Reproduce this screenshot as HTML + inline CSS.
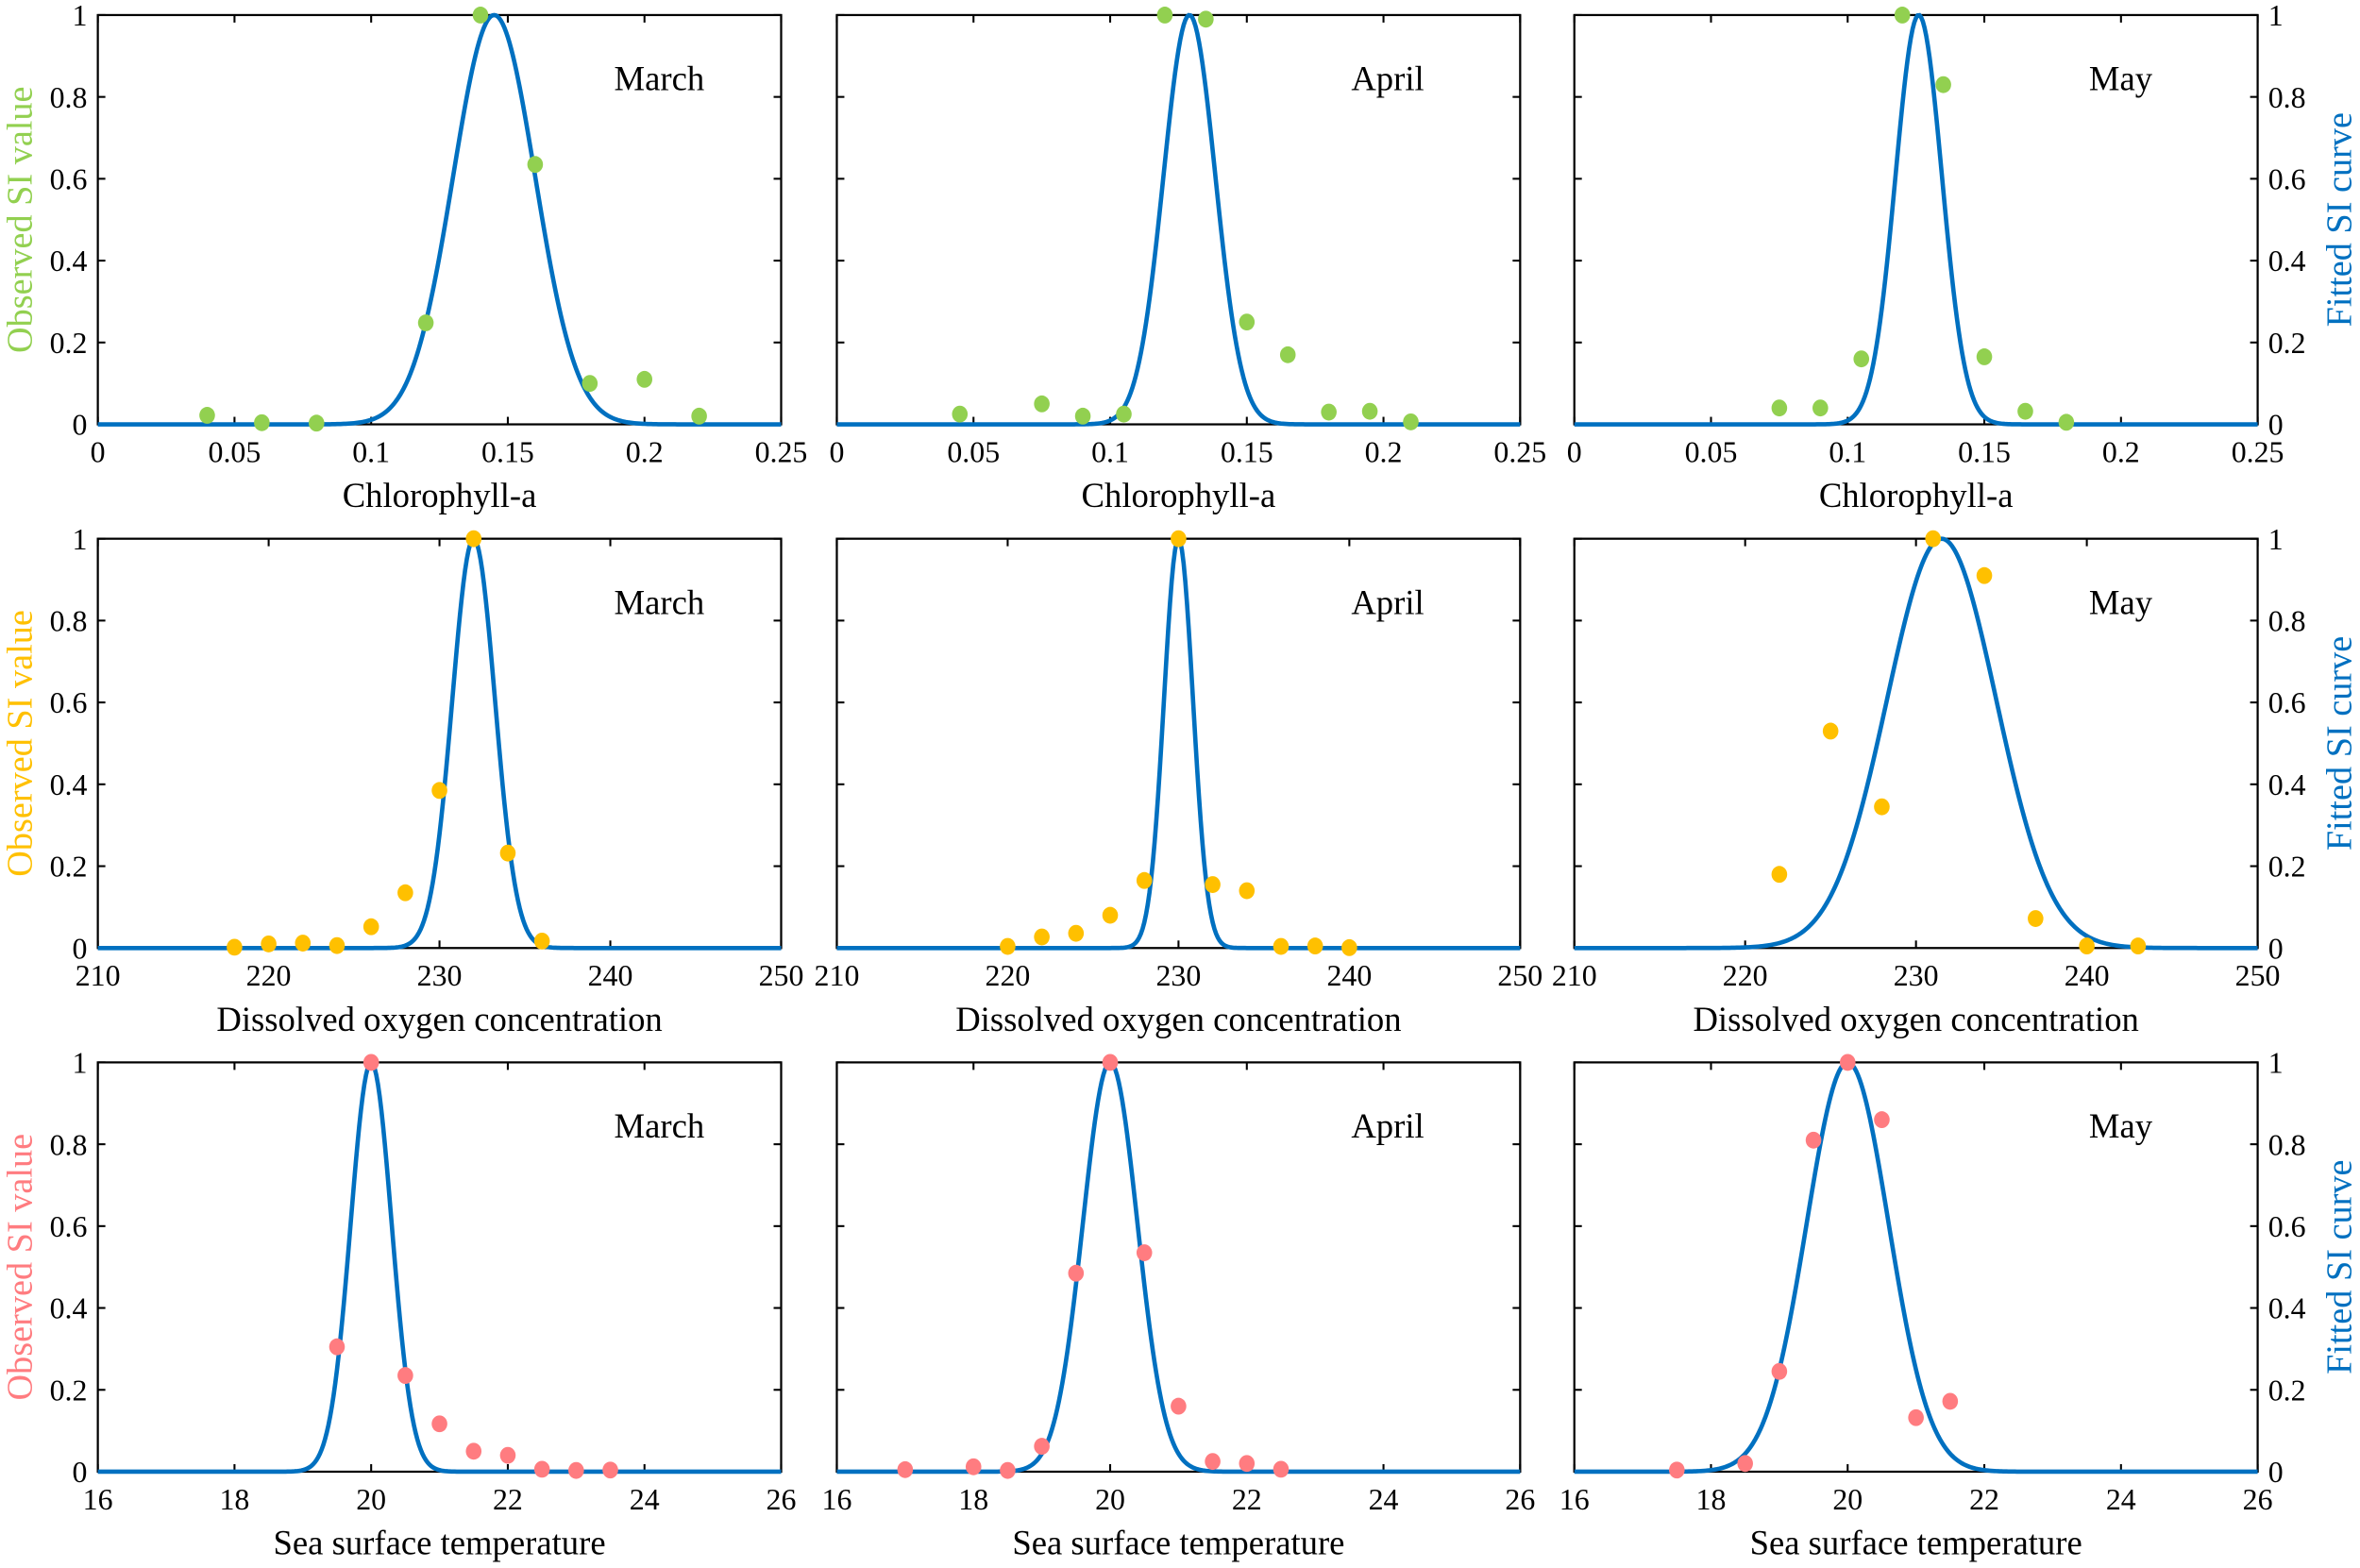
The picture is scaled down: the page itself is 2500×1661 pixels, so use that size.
<!DOCTYPE html>
<html><head><meta charset="utf-8"><style>
html,body{margin:0;padding:0;background:#fff;}
svg{display:block;font-family:"Liberation Serif",serif;}
</style></head><body>
<svg id="fig" width="2500" height="1661" viewBox="0 0 1568 1042" preserveAspectRatio="none" xmlns="http://www.w3.org/2000/svg"></svg>
<script>
const months = ["March","April","May"];
const rowVars = ["Chlorophyll-a","Dissolved oxygen concentration","Sea surface temperature"];
const rowColors = ["#92d050","#ffc000","#ff7c80"];
const rowXMin = [0,210,16];
const rowXMax = [0.25,250,26];
const rowXTicks = [[0,0.05,0.1,0.15,0.2,0.25],[210,220,230,240,250],[16,18,20,22,24,26]];
const yTicks = [0,0.2,0.4,0.6,0.8,1];
// Gaussian fit parameters (row-major: chl, DO, SST; cols March, April, May)
const fitMu = [[0.145,0.129,0.126],[232,230,231.5],[20,20,20]];
const fitSigma = [[0.015,0.0095,0.0085],[1.25,0.85,3.2],[0.3,0.4,0.6]];
// Observed points
const chlMarX=[0.04,0.06,0.08,0.12,0.14,0.16,0.18,0.2,0.22];
const chlMarY=[0.022,0.004,0.003,0.248,1,0.635,0.1,0.11,0.02];
const chlAprX=[0.045,0.075,0.09,0.105,0.12,0.135,0.15,0.165,0.18,0.195,0.21];
const chlAprY=[0.025,0.05,0.02,0.025,1,0.99,0.25,0.17,0.03,0.032,0.006];
const chlMayX=[0.075,0.09,0.105,0.12,0.135,0.15,0.165,0.18];
const chlMayY=[0.04,0.04,0.16,1,0.83,0.165,0.032,0.005];
const doMarX=[218,220,222,224,226,228,230,232,234,236];
const doMarY=[0.002,0.01,0.012,0.006,0.052,0.135,0.385,1,0.232,0.017];
const doAprX=[220,222,224,226,228,230,232,234,236,238,240];
const doAprY=[0.004,0.027,0.036,0.08,0.165,1,0.155,0.14,0.004,0.005,0.001];
const doMayX=[222,225,228,231,234,237,240,243];
const doMayY=[0.18,0.53,0.345,1,0.91,0.072,0.005,0.005];
const sstMarX=[19.5,20,20.5,21,21.5,22,22.5,23,23.5];
const sstMarY=[0.305,1,0.235,0.117,0.05,0.04,0.006,0.003,0.004];
const sstAprX=[17,18,18.5,19,19.5,20,20.5,21,21.5,22,22.5];
const sstAprY=[0.005,0.012,0.003,0.062,0.485,1,0.535,0.16,0.025,0.02,0.006];
const sstMayX=[17.5,18.5,19,19.5,20,20.5,21,21.5];
const sstMayY=[0.004,0.02,0.245,0.81,1,0.86,0.132,0.172];
const ptsX=[[chlMarX,chlAprX,chlMayX],[doMarX,doAprX,doMayX],[sstMarX,sstAprX,sstMayX]];
const ptsY=[[chlMarY,chlAprY,chlMayY],[doMarY,doAprY,doMayY],[sstMarY,sstAprY,sstMayY]];

const NS="http://www.w3.org/2000/svg";
const svg=document.getElementById('fig');
function mk(tag,attrs,parent){const e=document.createElementNS(NS,tag);for(const k in attrs)e.setAttribute(k,attrs[k]);(parent||svg).appendChild(e);return e;}
const colL=[65,556,1046], W=454, rowT=[10,358,706], H=272;
const monthOff=[373,366,363];
function fmt(v){return String(+v.toFixed(3));}

for(let r=0;r<3;r++){
  for(let c=0;c<3;c++){
    const x0=colL[c], y0=rowT[r];
    const g=mk('g',{});
    
    
    const sx=v=>x0+(v-rowXMin[r])/(rowXMax[r]-rowXMin[r])*W;
    const sy=v=>y0+H-v*H;
    rowXTicks[r].forEach(t=>{
      const X=sx(t);
      mk('line',{x1:X,x2:X,y1:y0+H,y2:y0+H-5,stroke:'#000','stroke-width':1.3},g);
      mk('line',{x1:X,x2:X,y1:y0,y2:y0+5,stroke:'#000','stroke-width':1.3},g);
      const tl=mk('text',{x:X,y:y0+H+25,'text-anchor':'middle','font-size':20},g);
      tl.textContent=fmt(t);
      
      
    });
    yTicks.forEach(t=>{
      const Y=sy(t);
      mk('line',{x1:x0,x2:x0+5,y1:Y,y2:Y,stroke:'#000','stroke-width':1.3},g);
      mk('line',{x1:x0+W,x2:x0+W-5,y1:Y,y2:Y,stroke:'#000','stroke-width':1.3},g);
      if(c===0){const tl=mk('text',{x:x0-7,y:Y+7,'text-anchor':'end','font-size':20},g);tl.textContent=fmt(t);
        
        }
      if(c===2){const tl=mk('text',{x:x0+W+7,y:Y+7,'text-anchor':'start','font-size':20},g);tl.textContent=fmt(t);
        
        }
    });
    let d='';
    const mu=fitMu[r][c], s=fitSigma[r][c];
    for(let i=0;i<=400;i++){
      const xv=rowXMin[r]+(rowXMax[r]-rowXMin[r])*i/400;
      const yv=Math.exp(-Math.pow(xv-mu,2)/(2*s*s));
      d+=(i?'L':'M')+sx(xv).toFixed(2)+' '+sy(yv).toFixed(2);
    }
    mk('rect',{x:x0,y:y0,width:W,height:H,fill:'none',stroke:'#000','stroke-width':1.4},g);
    const cv=mk('path',{d:d,fill:'none',stroke:'#0070c0','stroke-width':2.9},g);
    
    
    ptsX[r][c].forEach((xv,i)=>{
      const p=mk('ellipse',{cx:sx(xv),cy:sy(ptsY[r][c][i]),rx:5.2,ry:5.6,fill:rowColors[r]},g);
      
      
    });
    const ml=mk('text',{x:x0+monthOff[c],y:y0+50,'text-anchor':'middle','font-size':23},g);
    ml.textContent=months[c];
    
    
    const xt=mk('text',{x:x0+W/2,y:y0+H+55,'text-anchor':'middle','font-size':23},g);
    xt.textContent=rowVars[r];
    
    
  }
  const cy=rowT[r]+H/2;
  const lt=mk('text',{x:0,y:0,transform:`translate(21,${cy}) rotate(-90)`,'text-anchor':'middle','font-size':24,fill:rowColors[r]});
  lt.textContent='Observed SI value';
  
  
  const rt=mk('text',{x:0,y:0,transform:`translate(1562,${cy}) rotate(-90)`,'text-anchor':'middle','font-size':24,fill:'#0070c0'});
  rt.textContent='Fitted SI curve';
  
  
}
</script>
</body></html>
